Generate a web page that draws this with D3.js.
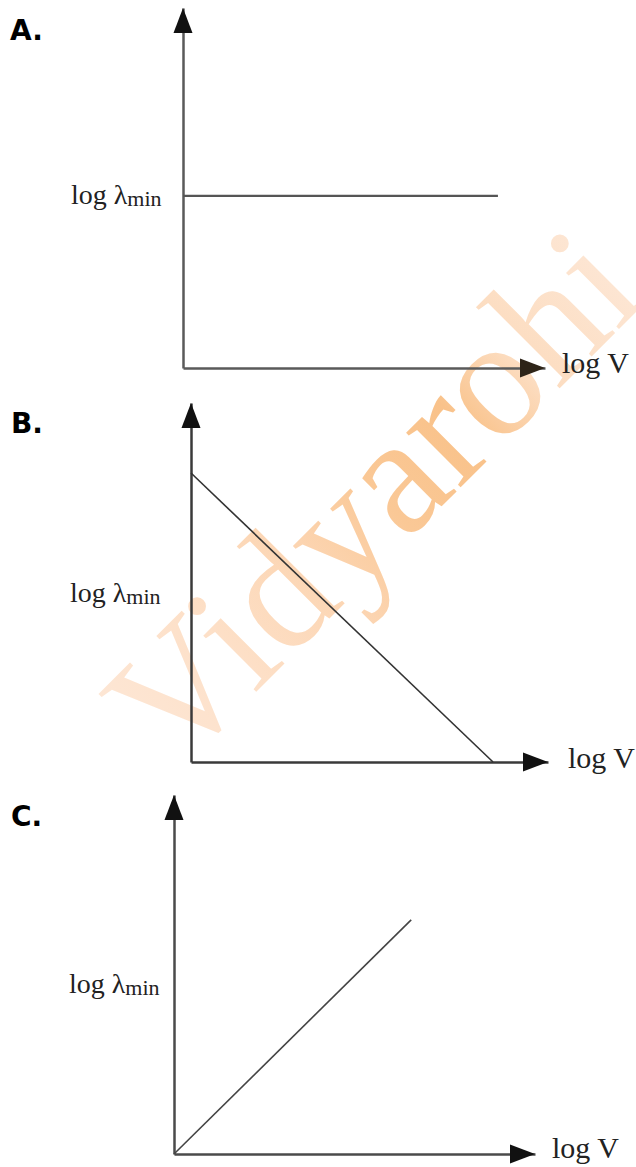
<!DOCTYPE html>
<html>
<head>
<meta charset="utf-8">
<script src="https://cdn.jsdelivr.net/npm/d3@7"></script>
<style>
  html, body { margin: 0; padding: 0; background: #fff; }
  svg { display: block; }
</style>
</head>
<body>
<svg id="chart" width="636" height="1167"></svg>
<script>
// Panel names and axis titles
const panelNames = ["A.", "B.", "C."];
const xTitle = "log V";
const yTitleMain = "log λ";
const yTitleSub = "min";

// Each panel's straight line, in axis units (0..10 along each arrow)
const lineA = [[0, 4.78], [8.7, 4.78]];
const lineB = [[0, 8.05], [8.46, 0]];
const lineC = [[0, 0], [6.57, 6.52]];
const panelLines = [lineA, lineB, lineC];

// Axis domain shared by all panels
const axisDomain = [0, 10];

// Layout of each panel: origin, arrow tips, label anchors
const layout = [
  { ox: 183, oy: 368, xEnd: 545, yEnd: 8,   lineW: 2.4, lineC: "#555", axisC: "#5a5a5a",
    name: [10, 40], yLab: [71, 204], xLab: [562, 373], xHead: "#2e2418" },
  { ox: 191, oy: 762, xEnd: 548, yEnd: 403, lineW: 1.6, lineC: "#333", axisC: "#3a3a3a",
    name: [11, 433], yLab: [70, 602], xLab: [568, 768], xHead: "#111" },
  { ox: 174, oy: 1154, xEnd: 535, yEnd: 795, lineW: 1.6, lineC: "#444", axisC: "#4a4a4a",
    name: [11, 826], yLab: [69, 993], xLab: [552, 1158], xHead: "#111" }
];

const svg = d3.select("#chart");

// Watermark behind the panels; gradient runs along the rotated text
const defs = svg.append("defs");
const grad = defs.append("linearGradient")
  .attr("id", "wmGrad")
  .attr("gradientUnits", "userSpaceOnUse")
  .attr("x1", 0).attr("y1", 0).attr("x2", 680).attr("y2", 0);
[[0, "#fde6d4"], [0.18, "#fde0c8"], [0.35, "#fcd6b4"], [0.5, "#fac896"],
 [0.66, "#f9c28a"], [0.78, "#fcdcbf"], [1, "#fde7d6"]].forEach(([o, c]) =>
  grad.append("stop").attr("offset", o).attr("stop-color", c));

svg.append("text")
  .attr("transform", "translate(175,773) rotate(-45)")
  .attr("font-family", "'Liberation Serif', 'Times New Roman', serif")
  .attr("font-size", 168)
  .attr("fill", "url(#wmGrad)")
  .text("Vidyarohi");

const headLen = 25, headHalf = 9.5;

layout.forEach((L, i) => {
  const g = svg.append("g");
  const x = d3.scaleLinear().domain(axisDomain).range([L.ox, L.xEnd]);
  const y = d3.scaleLinear().domain(axisDomain).range([L.oy, L.yEnd]);

  // Axes: bare domain lines, no ticks
  const xAxis = g.append("g").attr("transform", `translate(0,${L.oy})`)
    .call(d3.axisBottom(x).tickValues([]).tickSizeOuter(0));
  const yAxis = g.append("g").attr("transform", `translate(${L.ox},0)`)
    .call(d3.axisLeft(y).tickValues([]).tickSizeOuter(0));
  [xAxis, yAxis].forEach(a => a.select(".domain")
    .attr("stroke", L.axisC).attr("stroke-width", 2.5));

  // Arrowheads at the end of each axis
  const xt = x(axisDomain[1]), yt = y(axisDomain[1]);
  g.append("path")
    .attr("d", `M${xt},${L.oy} L${xt - headLen},${L.oy - headHalf} L${xt - headLen},${L.oy + headHalf} Z`)
    .attr("fill", L.xHead);
  g.append("path")
    .attr("d", `M${L.ox},${yt} L${L.ox - headHalf},${yt + headLen} L${L.ox + headHalf},${yt + headLen} Z`)
    .attr("fill", "#111");

  // The plotted line
  g.append("path")
    .datum(panelLines[i])
    .attr("d", d3.line().x(d => x(d[0])).y(d => y(d[1])))
    .attr("fill", "none")
    .attr("stroke", L.lineC)
    .attr("stroke-width", L.lineW);

  // Panel letter
  g.append("text")
    .attr("x", L.name[0]).attr("y", L.name[1])
    .attr("font-family", "'DejaVu Sans', Verdana, sans-serif")
    .attr("font-weight", "bold")
    .attr("font-size", 28)
    .attr("fill", "#000")
    .text(panelNames[i]);

  // Axis titles
  const yl = g.append("text")
    .attr("x", L.yLab[0]).attr("y", L.yLab[1])
    .attr("font-family", "'Liberation Serif', 'Times New Roman', serif")
    .attr("font-size", 28)
    .attr("fill", "#222");
  yl.append("tspan").text(yTitleMain);
  yl.append("tspan").attr("font-size", 22).attr("dy", 2).text(yTitleSub);

  g.append("text")
    .attr("x", L.xLab[0]).attr("y", L.xLab[1])
    .attr("font-family", "'Liberation Serif', 'Times New Roman', serif")
    .attr("font-size", 30)
    .attr("fill", "#222")
    .text(xTitle);
});
</script>
</body>
</html>
